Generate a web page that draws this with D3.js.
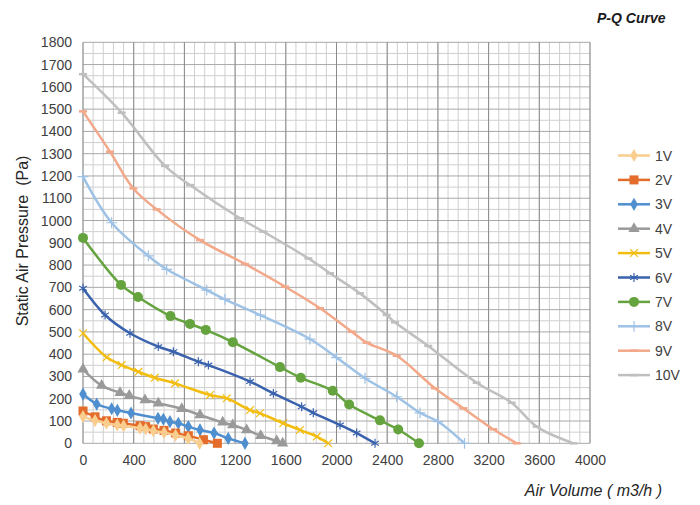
<!DOCTYPE html>
<html lang="en">
<head>
<meta charset="UTF-8">
<title>P-Q Curve</title>
<script src="https://d3js.org/d3.v7.min.js"></script>
<style>
    body { margin: 0; background: #fff; }
    svg { font-family: "Liberation Sans", Arial, sans-serif; }
</style>
</head>
<body>
<div id="chart"></div>
<script>
// air volume (m3/h) and static pressure (Pa) per voltage
const volts = ["1V", "2V", "3V", "4V", "5V", "6V", "7V", "8V", "9V", "10V"];

const q1 = [0, 95, 185, 270, 320, 450, 495, 555, 640, 730, 830, 920];
const p1 = [120, 102, 90, 82, 78, 68, 64, 56, 48, 36, 22, 0];
const q2 = [0, 95, 185, 270, 318, 450, 494, 555, 639, 731, 831, 950, 1060];
const p2 = [145, 119, 101, 94, 90, 79, 75, 64, 58, 46, 34, 16, 0];
const q3 = [0, 108, 226, 271, 379, 592, 634, 686, 752, 831, 923, 1034, 1146, 1278];
const p3 = [221, 176, 155, 148, 136, 112, 108, 97, 90, 75, 60, 46, 22, 0];
const q4 = [0, 147, 292, 365, 489, 594, 779, 923, 1102, 1181, 1291, 1402, 1528, 1575];
const p4 = [332, 259, 227, 214, 194, 180, 155, 127, 94, 82, 60, 34, 10, 0];
const q5 = [0, 187, 305, 437, 566, 726, 1002, 1134, 1318, 1396, 1580, 1712, 1844, 1935];
const p5 = [494, 386, 351, 321, 294, 269, 217, 202, 149, 135, 90, 60, 30, 0];
const q6 = [0, 174, 371, 594, 713, 910, 989, 1318, 1502, 1725, 1817, 2028, 2159, 2304];
const p6 = [696, 576, 494, 434, 411, 366, 351, 277, 224, 164, 137, 82, 46, 0];
const q7 = [0, 300, 434, 690, 844, 969, 1182, 1554, 1718, 1970, 2100, 2343, 2487, 2651];
const p7 = [922, 711, 657, 571, 536, 509, 454, 342, 294, 236, 174, 103, 62, 0];
const q8 = [0, 226, 516, 660, 976, 1120, 1400, 1790, 2000, 2225, 2475, 2659, 2803, 3010];
const p8 = [1197, 990, 841, 781, 688, 646, 575, 468, 385, 292, 209, 137, 97, 0];
const q9 = [0, 213, 397, 581, 923, 1278, 1594, 1870, 2120, 2238, 2475, 2777, 3001, 3237, 3422];
const p9 = [1490, 1309, 1144, 1050, 912, 805, 703, 606, 501, 452, 393, 247, 157, 63, 0];
const q10 = [0, 305, 647, 844, 1239, 1423, 1778, 1949, 2185, 2396, 2461, 2724, 3106, 3382, 3579, 3870];
const p10 = [1657, 1484, 1245, 1159, 1010, 950, 830, 763, 673, 576, 543, 437, 272, 182, 75, 0];

const xTicks = [0, 400, 800, 1200, 1600, 2000, 2400, 2800, 3200, 3600, 4000];
const yTicks = [0, 100, 200, 300, 400, 500, 600, 700, 800, 900, 1000, 1100, 1200, 1300, 1400, 1500, 1600, 1700, 1800];

const qs = [q1, q2, q3, q4, q5, q6, q7, q8, q9, q10];
const ps = [p1, p2, p3, p4, p5, p6, p7, p8, p9, p10];

const colors = ["#f9cd8e", "#e46c2a", "#4f8fcf", "#9a9a9a", "#f2bd0f", "#3a62ad", "#64a33e", "#9ec2e6", "#f2a889", "#bfbfbf"];
const markers = ["diamond", "square", "diamond", "triangle", "x", "star", "circle", "plus", "dash", "dash"];

const series = volts.map((v, i) => ({
    name: v,
    color: colors[i],
    marker: markers[i],
    values: qs[i].map((q, j) => ({q: q, p: ps[i][j]}))
}));

const width = 700, height = 505;
const svg = d3.select("#chart").append("svg")
    .attr("width", width)
    .attr("height", height);

const x = d3.scaleLinear().domain([0, 4000]).range([83, 590]);
const y = d3.scaleLinear().domain([0, 1800]).range([443.3, 42.3]);

// grid: minor first, major on top
const grid = svg.append("g");
grid.selectAll(".vminor")
    .data(d3.range(0, 4001, 80))
    .enter().append("line")
    .attr("x1", d => x(d)).attr("x2", d => x(d))
    .attr("y1", y(0)).attr("y2", y(1800))
    .attr("stroke", "#cfcfcf").attr("stroke-width", 1);
grid.selectAll(".hminor")
    .data(d3.range(50, 1800, 100))
    .enter().append("line")
    .attr("x1", x(0)).attr("x2", x(4000))
    .attr("y1", d => y(d)).attr("y2", d => y(d))
    .attr("stroke", "#cfcfcf").attr("stroke-width", 1);
grid.selectAll(".hmajor")
    .data(yTicks)
    .enter().append("line")
    .attr("x1", x(0)).attr("x2", x(4000))
    .attr("y1", d => y(d)).attr("y2", d => y(d))
    .attr("stroke", "#a8a8a8").attr("stroke-width", 1);
grid.selectAll(".vmajor")
    .data(xTicks)
    .enter().append("line")
    .attr("x1", d => x(d)).attr("x2", d => x(d))
    .attr("y1", y(0)).attr("y2", y(1800))
    .attr("stroke", "#8a8a8a").attr("stroke-width", 1);

// axes (labels only)
const xAxis = svg.append("g")
    .attr("transform", "translate(0," + y(0) + ")")
    .call(d3.axisBottom(x).tickValues(xTicks).tickFormat(d3.format("d")).tickSize(0).tickPadding(12));
const yAxis = svg.append("g")
    .attr("transform", "translate(" + x(0) + ",0)")
    .call(d3.axisLeft(y).tickValues(yTicks).tickFormat(d3.format("d")).tickSize(0).tickPadding(11));
[xAxis, yAxis].forEach(a => {
    a.select(".domain").remove();
    a.selectAll("text")
        .attr("font-family", "Liberation Sans, Arial, sans-serif")
        .attr("font-size", "14px")
        .attr("fill", "#404040");
});

// marker drawing
function drawMarker(sel, type, color) {
    if (type === "circle") {
        sel.append("circle").attr("r", 5).attr("fill", color);
    } else if (type === "square") {
        sel.append("rect").attr("x", -4.5).attr("y", -4.5).attr("width", 9).attr("height", 9).attr("fill", color);
    } else if (type === "diamond") {
        sel.append("path").attr("d", d3.symbol(d3.symbolDiamond, 50)).attr("fill", color);
    } else if (type === "triangle") {
        sel.append("path").attr("d", d3.symbol(d3.symbolTriangle, 55)).attr("fill", color);
    } else if (type === "x") {
        sel.append("path").attr("d", d3.symbol(d3.symbolTimes, 40)).attr("fill", "none")
            .attr("stroke", color).attr("stroke-width", 1.2);
    } else if (type === "star") {
        sel.append("path").attr("d", d3.symbol(d3.symbolAsterisk, 55)).attr("fill", "none")
            .attr("stroke", color).attr("stroke-width", 1.2);
    } else if (type === "plus") {
        sel.append("path").attr("d", d3.symbol(d3.symbolPlus, 40)).attr("fill", "none")
            .attr("stroke", color).attr("stroke-width", 1.2);
    } else if (type === "dash") {
        sel.append("path").attr("d", "M-4,0H4").attr("stroke", color).attr("stroke-width", 2.5);
    }
}

const line = d3.line()
    .x(d => x(d.q))
    .y(d => y(d.p))
    .curve(d3.curveCatmullRom.alpha(0.5));

const plot = svg.append("g");
series.slice().reverse().forEach(s => {
    const g = plot.append("g");
    g.append("path")
        .datum(s.values)
        .attr("d", line)
        .attr("fill", "none")
        .attr("stroke", s.color)
        .attr("stroke-width", 2.5);
    g.selectAll(".m")
        .data(s.values)
        .enter().append("g")
        .attr("transform", d => "translate(" + x(d.q) + "," + y(d.p) + ")")
        .each(function() { drawMarker(d3.select(this), s.marker, s.color); });
});

// legend
const legend = svg.append("g");
series.forEach((s, i) => {
    const ly = 155.5 + i * 24.4;
    const g = legend.append("g");
    g.append("line")
        .attr("x1", 618).attr("x2", 650)
        .attr("y1", ly).attr("y2", ly)
        .attr("stroke", s.color).attr("stroke-width", 2.5);
    const m = g.append("g").attr("transform", "translate(634," + ly + ")");
    drawMarker(m, s.marker, s.color);
    g.append("text")
        .attr("x", 655).attr("y", ly + 5)
        .attr("font-size", "14px")
        .attr("fill", "#404040")
        .text(s.name);
});

// titles
svg.append("text")
    .attr("x", 597).attr("y", 23)
    .attr("font-size", "14px")
    .attr("font-weight", "bold")
    .attr("font-style", "italic")
    .attr("fill", "#1a1a1a")
    .text("P-Q Curve");

svg.append("text")
    .attr("x", 662).attr("y", 496)
    .attr("text-anchor", "end")
    .attr("font-size", "16px")
    .attr("font-style", "italic")
    .attr("fill", "#262626")
    .text("Air Volume ( m3/h )");

svg.append("text")
    .attr("transform", "translate(28,241) rotate(-90)")
    .attr("text-anchor", "middle")
    .attr("font-size", "16px")
    .attr("fill", "#262626")
    .style("white-space", "pre")
    .text("Static Air Pressure  (Pa)");
</script>
</body>
</html>
